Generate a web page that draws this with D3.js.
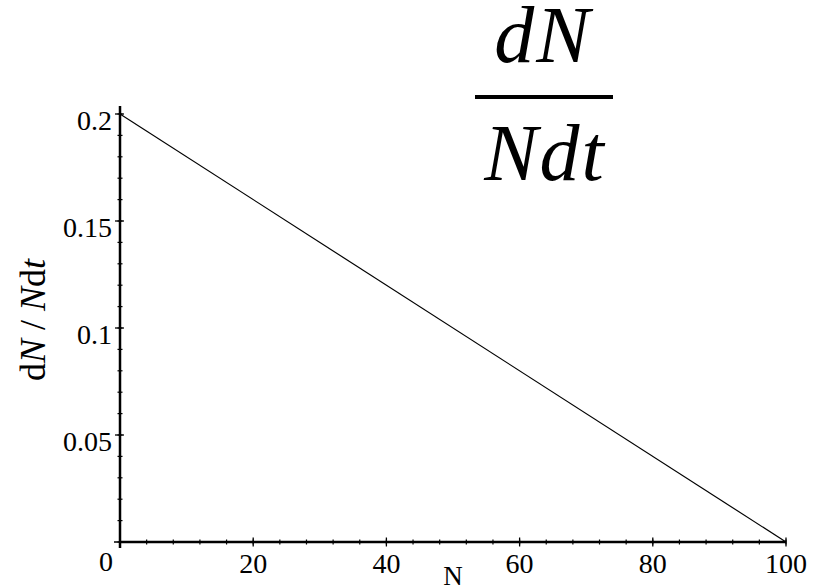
<!DOCTYPE html>
<html>
<head>
<meta charset="utf-8">
<script src="https://cdn.jsdelivr.net/npm/d3@7"></script>
<style>
  body { margin: 0; background: #fff; }
  text { font-family: "Liberation Serif", "Times New Roman", serif; fill: #000; }
</style>
</head>
<body>
<svg id="chart" width="821" height="587"></svg>
<script>
// data: straight line dN/Ndt = r (1 - N/K)
var lineN = [0, 100];
var lineRate = [0.2, 0];
var xTicks = [20, 40, 60, 80, 100];
var yTicks = [0.05, 0.1, 0.15, 0.2];
var xMinor = d3.range(0, 101, 4);
var yMinor = d3.range(0, 0.2001, 0.01);

var svg = d3.select("#chart");
var x = d3.scaleLinear().domain([0, 100]).range([120, 786]);
var y = d3.scaleLinear().domain([0, 0.2]).range([542, 114]);

// ---------------------------------------------------------------- axes lines
svg.append("line").attr("x1", x(0)).attr("x2", x(100)).attr("y1", y(0)).attr("y2", y(0))
  .attr("stroke", "#000").attr("stroke-width", 2.5);
svg.append("line").attr("x1", x(0)).attr("x2", x(0)).attr("y1", y(0) + 6).attr("y2", y(0.2) - 8)
  .attr("stroke", "#000").attr("stroke-width", 2.5);
svg.append("line").attr("x1", x(0) - 6).attr("x2", x(0)).attr("y1", y(0)).attr("y2", y(0))
  .attr("stroke", "#000").attr("stroke-width", 1.5);

// minor ticks
svg.selectAll(".xminor").data(xMinor).join("line").attr("class", "xminor")
  .attr("x1", d => x(d)).attr("x2", d => x(d)).attr("y1", y(0) - 2.5).attr("y2", y(0) + 2.5)
  .attr("stroke", "#000").attr("stroke-width", 1.2);
svg.selectAll(".yminor").data(yMinor).join("line").attr("class", "yminor")
  .attr("x1", x(0) - 2.5).attr("x2", x(0) + 2.5).attr("y1", d => y(d)).attr("y2", d => y(d))
  .attr("stroke", "#000").attr("stroke-width", 1.2);
// major ticks
svg.selectAll(".xmajor").data(xTicks).join("line").attr("class", "xmajor")
  .attr("x1", d => x(d)).attr("x2", d => x(d)).attr("y1", y(0) - 4.5).attr("y2", y(0) + 4.5)
  .attr("stroke", "#000").attr("stroke-width", 1.3);
svg.selectAll(".ymajor").data(yTicks).join("line").attr("class", "ymajor")
  .attr("x1", x(0) - 5).attr("x2", x(0) + 4).attr("y1", d => y(d)).attr("y2", d => y(d))
  .attr("stroke", "#000").attr("stroke-width", 1.3);

// tick labels
svg.selectAll(".xlab").data(xTicks).join("text").attr("class", "xlab")
  .attr("x", d => x(d)).attr("y", 573).attr("text-anchor", "middle")
  .attr("font-size", 28).text(d => d);
svg.append("text").attr("x", 106).attr("y", 571).attr("text-anchor", "middle")
  .attr("font-size", 28).text("0");
svg.selectAll(".ylab").data(yTicks).join("text").attr("class", "ylab")
  .attr("x", 112).attr("y", d => y(d) + 16).attr("text-anchor", "end")
  .attr("font-size", 28).text(d => d);

// axis titles
svg.append("text").attr("x", 453).attr("y", 585).attr("text-anchor", "middle")
  .attr("font-size", 27).text("N");
var yl = svg.append("text").attr("transform", "translate(45,320) rotate(-90)")
  .attr("text-anchor", "middle").attr("font-size", 36);
yl.append("tspan").text("d");
yl.append("tspan").attr("font-style", "italic").text("N");
yl.append("tspan").text(" / ");
yl.append("tspan").attr("font-style", "italic").text("N");
yl.append("tspan").text("d");
yl.append("tspan").attr("font-style", "italic").text("t");

// data line
svg.append("path")
  .datum(d3.zip(lineN, lineRate))
  .attr("d", d3.line().x(d => x(d[0])).y(d => y(d[1])))
  .attr("fill", "none").attr("stroke", "#000").attr("stroke-width", 1.2);

// big fraction title
svg.append("text").attr("x", 543).attr("y", 62).attr("text-anchor", "middle")
  .attr("font-size", 80).attr("font-style", "italic").attr("letter-spacing", 2).text("dN");
svg.append("line").attr("x1", 475).attr("x2", 613).attr("y1", 97).attr("y2", 97)
  .attr("stroke", "#000").attr("stroke-width", 4);
svg.append("text").attr("x", 545).attr("y", 180).attr("text-anchor", "middle")
  .attr("font-size", 80).attr("font-style", "italic").attr("letter-spacing", 2).text("Ndt");
</script>
</body>
</html>
